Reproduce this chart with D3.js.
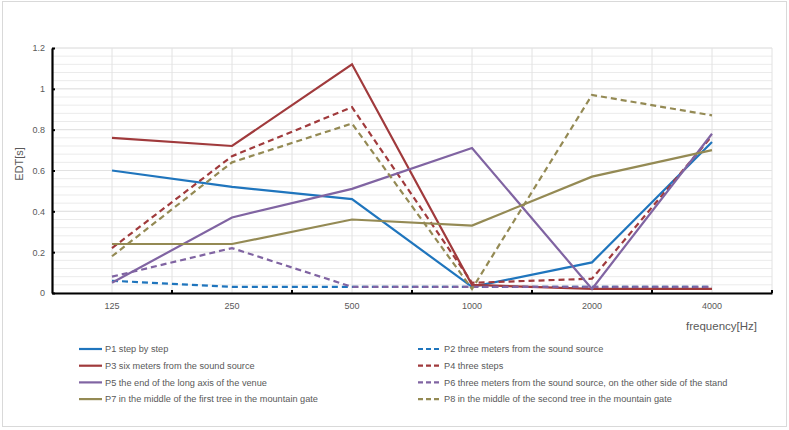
<!DOCTYPE html>
<html><head><meta charset="utf-8">
<script src="https://cdn.jsdelivr.net/npm/d3@7"></script>
<style>
body{margin:0;background:#fff;}
svg{display:block;font-family:"Liberation Sans",Arial,sans-serif;}
</style></head>
<body><svg id="c" width="789" height="430"></svg>
<script>
const categories = ["125","250","500","1000","2000","4000"];
const yTicks = [0,0.2,0.4,0.6,0.8,1,1.2];
const p1 = [0.60,0.52,0.46,0.03,0.15,0.74];
const p2 = [0.06,0.03,0.03,0.03,0.03,0.03];
const p3 = [0.76,0.72,1.12,0.04,0.02,0.02];
const p4 = [0.22,0.67,0.91,0.05,0.07,0.77];
const p5 = [0.05,0.37,0.51,0.71,0.02,0.78];
const p6 = [0.08,0.22,0.03,0.03,0.03,0.03];
const p7 = [0.24,0.24,0.36,0.33,0.57,0.70];
const p8 = [0.18,0.64,0.83,0.02,0.97,0.87];
const names = ["P1 step by step","P2 three meters from the sound source","P3 six meters from the sound source","P4 three steps","P5 the end of the long axis of the venue","P6 three meters from the sound source, on the other side of the stand","P7 in the middle of the first tree in the mountain gate","P8 in the middle of the second tree in the mountain gate"];
const seriesValues = [p1,p2,p3,p4,p5,p6,p7,p8];
const colors = ["#1f75bd","#1f75bd","#a03a3c","#a03a3c","#8064a2","#8064a2","#948a54","#948a54"];
const dashed = [false,true,false,true,false,true,false,true];

const svg = d3.select("#c");
svg.append("rect").attr("x",2.5).attr("y",1.5).attr("width",784).attr("height",425)
  .attr("fill","#fff").attr("stroke","#d9d9d9");

const L=52, R=772, T=48, B=293;
const x = d3.scaleBand().domain(categories).range([L,R]);
const y = d3.scaleLinear().domain([0,1.2]).range([B,T]);

// minor horizontal gridlines
const minor = d3.range(0,1.2001,0.04);
svg.append("g").selectAll("line").data(minor).join("line")
  .attr("x1",L).attr("x2",R).attr("y1",d=>y(d)).attr("y2",d=>y(d))
  .attr("stroke","#ebebeb").attr("stroke-width",1);
svg.append("g").selectAll("line").data(yTicks).join("line")
  .attr("x1",L).attr("x2",R).attr("y1",d=>y(d)).attr("y2",d=>y(d))
  .attr("stroke","#e2e2e2").attr("stroke-width",1);
// vertical gridlines at centers and boundaries
const vpos = [];
categories.forEach(c=>{vpos.push(x(c)+x.bandwidth()/2); vpos.push(x(c)+x.bandwidth());});
svg.append("g").selectAll("line").data(vpos).join("line")
  .attr("x1",d=>d).attr("x2",d=>d).attr("y1",T).attr("y2",B)
  .attr("stroke","#e2e2e2").attr("stroke-width",1);

// axes
const yAxis = svg.append("g").attr("transform",`translate(${L},0)`)
  .call(d3.axisLeft(y).tickValues(yTicks).tickFormat(d3.format("")).tickSizeInner(-3).tickSizeOuter(0).tickPadding(7));
yAxis.select(".domain").attr("stroke","#000").attr("stroke-width",2.2);
yAxis.selectAll(".tick line").attr("stroke","#000").attr("stroke-width",2);
yAxis.selectAll("text").attr("fill","#595959").attr("font-size",9);

const xAxis = svg.append("g").attr("transform",`translate(0,${B})`)
  .call(d3.axisBottom(x).tickSize(0).tickPadding(10));
xAxis.select(".domain").attr("stroke","#000").attr("stroke-width",2.2);
xAxis.selectAll("text").attr("fill","#595959").attr("font-size",9);
// x tick marks at band boundaries (inward)
svg.append("g").selectAll("line").data(categories).join("line")
  .attr("x1",d=>x(d)+x.bandwidth()).attr("x2",d=>x(d)+x.bandwidth())
  .attr("y1",B).attr("y2",B-3).attr("stroke","#000").attr("stroke-width",2);

// axis titles
svg.append("text").attr("transform","translate(23,164) rotate(-90)").attr("text-anchor","middle")
  .attr("fill","#595959").attr("font-size",11).text("EDT[s]");
svg.append("text").attr("x",757).attr("y",330).attr("text-anchor","end")
  .attr("fill","#595959").attr("font-size",11.5).text("frequency[Hz]");

// lines
const line = d3.line().x((d,i)=>x(categories[i])+x.bandwidth()/2).y(d=>y(d));
seriesValues.forEach((vals,k)=>{
  svg.append("path").datum(vals).attr("d",line).attr("fill","none")
    .attr("stroke",colors[k]).attr("stroke-width",2.2)
    .attr("stroke-dasharray",dashed[k]?"6,4":null);
});

// legend
const lg = svg.append("g");
names.forEach((n,k)=>{
  const col = k%2, row = Math.floor(k/2);
  const lx = col===0?79:418, ly = 349 + row*16.7;
  lg.append("line").attr("x1",lx).attr("x2",lx+23).attr("y1",ly).attr("y2",ly)
    .attr("stroke",colors[k]).attr("stroke-width",2.2).attr("stroke-dasharray",dashed[k]?"5,3":null);
  lg.append("text").attr("x",lx+26).attr("y",ly+3.2).attr("fill","#595959").attr("font-size",9.2).text(n);
});
</script></body></html>
